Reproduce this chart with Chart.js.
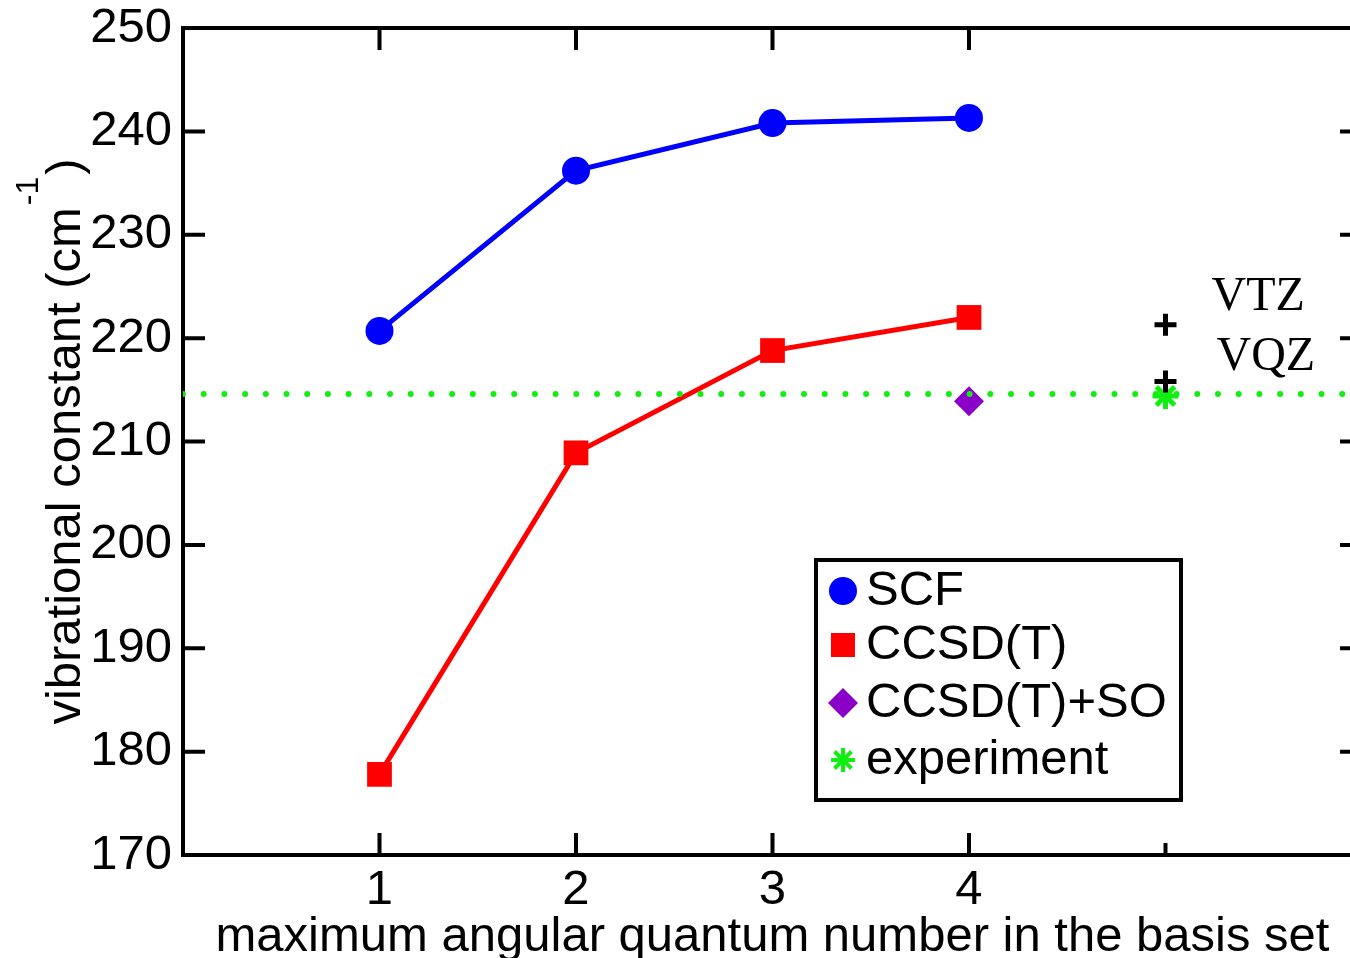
<!DOCTYPE html>
<html>
<head>
<meta charset="utf-8">
<script src="https://cdn.jsdelivr.net/npm/chart.js@4.4.1/dist/chart.umd.min.js"></script>
<style>
    html, body { margin: 0; padding: 0; background: #fff; overflow: hidden; }
    #wrap { width: 1380px; height: 958px; }
</style>
</head>
<body>
<div id="wrap"><canvas id="chart" width="1380" height="958"></canvas></div>
<script>
// basis-set cardinal number (l_max) on the x axis
const lMax = [1, 2, 3, 4];
const scfValues = [220.7, 236.2, 240.8, 241.3];
const ccsdtValues = [177.8, 208.9, 218.8, 222.0];
const ccsdtSoX = [4];
const ccsdtSoValues = [213.9];
const experimentValue = 214.6;
const experimentX = [5];
const refLabels = ["VTZ", "VQZ"];
const refValues = [221.3, 215.8];
const xTickLabels = ["1", "2", "3", "4"];
const yTicks = [170, 180, 190, 200, 210, 220, 230, 240, 250];

const SANS = "'Liberation Sans', Arial, Helvetica, sans-serif";
const SERIF = "'Liberation Serif', 'Times New Roman', serif";
const FS = 49;
const COLORS = {
    scf: "#0000ff",
    ccsdt: "#ff0000",
    so: "#8a00c8",
    exp: "#11ee11",
    ink: "#000000",
};

const pts = (xs, ys) => xs.map((x, i) => ({ x, y: ys[i] }));

function drawMarker(ctx, style, x, y, r, color) {
    ctx.save();
    ctx.fillStyle = color;
    ctx.strokeStyle = color;
    ctx.beginPath();
    if (style === "circle") {
        ctx.arc(x, y, r, 0, Math.PI * 2);
        ctx.fill();
    } else if (style === "rect") {
        ctx.fillRect(x - r, y - r, 2 * r, 2 * r);
    } else if (style === "rectRot") {
        ctx.moveTo(x - r, y);
        ctx.lineTo(x, y - r);
        ctx.lineTo(x + r, y);
        ctx.lineTo(x, y + r);
        ctx.closePath();
        ctx.fill();
    } else if (style === "star") {
        ctx.lineWidth = 4;
        for (let k = 0; k < 4; k++) {
            const a = k * Math.PI / 4;
            ctx.moveTo(x - Math.cos(a) * r, y - Math.sin(a) * r);
            ctx.lineTo(x + Math.cos(a) * r, y + Math.sin(a) * r);
        }
        ctx.stroke();
    }
    ctx.restore();
}

const framePlugin = {
    id: "frame",
    afterDraw(chart) {
        const { ctx, chartArea: a, scales: { x, y } } = chart;
        ctx.save();
        ctx.strokeStyle = COLORS.ink;
        ctx.lineWidth = 4;
        // top and right spines
        ctx.beginPath();
        ctx.moveTo(a.left, a.top);
        ctx.lineTo(a.right, a.top);
        ctx.lineTo(a.right, a.bottom);
        ctx.stroke();
        // inward ticks
        ctx.beginPath();
        yTicks.forEach((v) => {
            const py = y.getPixelForValue(v);
            ctx.moveTo(a.left, py);
            ctx.lineTo(a.left + 22, py);
            ctx.moveTo(a.right, py);
            ctx.lineTo(a.right - 22, py);
        });
        lMax.forEach((v) => {
            const px = x.getPixelForValue(v);
            ctx.moveTo(px, a.bottom);
            ctx.lineTo(px, a.bottom - 22);
            ctx.moveTo(px, a.top);
            ctx.lineTo(px, a.top + 22);
        });
        const px5 = x.getPixelForValue(experimentX[0]);
        ctx.moveTo(px5, a.bottom);
        ctx.lineTo(px5, a.bottom - 12);
        ctx.stroke();

        // VTZ / VQZ labels beside the crosses
        ctx.fillStyle = COLORS.ink;
        ctx.font = "48px " + SERIF;
        ctx.textBaseline = "middle";
        ctx.textAlign = "left";
        const offsets = [[46, -27], [51, -24]];
        refLabels.forEach((lab, i) => {
            const cx = x.getPixelForValue(experimentX[0]);
            const cy = y.getPixelForValue(refValues[i]);
            ctx.fillText(lab, cx + offsets[i][0], cy + offsets[i][1]);
        });

        // y axis title with superscript
        ctx.save();
        ctx.translate(80, (a.top + a.bottom) / 2);
        ctx.rotate(-Math.PI / 2);
        ctx.textBaseline = "alphabetic";
        const main = "vibrational constant (cm";
        const sup = "-1";
        const close = ")";
        ctx.font = FS + "px " + SANS;
        const wMain = ctx.measureText(main).width;
        const wClose = ctx.measureText(close).width;
        ctx.font = "32px " + SANS;
        const wSup = ctx.measureText(sup).width;
        let tx = -(wMain + wSup + wClose + 4) / 2;
        ctx.font = FS + "px " + SANS;
        ctx.fillText(main, tx, 0);
        tx += wMain + 2;
        ctx.font = "32px " + SANS;
        ctx.fillText(sup, tx, -42);
        tx += wSup + 2;
        ctx.font = FS + "px " + SANS;
        ctx.fillText(close, tx, 0);
        ctx.restore();

        // legend box
        const box = { l: 816, t: 560, r: 1181, b: 800 };
        ctx.lineWidth = 4;
        ctx.fillStyle = "#fff";
        ctx.fillRect(box.l, box.t, box.r - box.l, box.b - box.t);
        ctx.strokeRect(box.l, box.t, box.r - box.l, box.b - box.t);
        const entries = [
            ["SCF", "circle", 14, COLORS.scf],
            ["CCSD(T)", "rect", 12, COLORS.ccsdt],
            ["CCSD(T)+SO", "rectRot", 15, COLORS.so],
            ["experiment", "star", 12, COLORS.exp],
        ];
        const rows = [591, 645, 703, 760];
        ctx.font = FS + "px " + SANS;
        ctx.textBaseline = "middle";
        entries.forEach((e, i) => {
            drawMarker(ctx, e[1], 843, rows[i], e[2], e[3]);
            ctx.fillStyle = COLORS.ink;
            ctx.fillText(e[0], 866, rows[i]);
        });
        ctx.restore();
    },
};

new Chart(document.getElementById("chart"), {
    type: "scatter",
    data: {
        datasets: [
            {
                label: "refs",
                data: refValues.map((v) => ({ x: experimentX[0], y: v })),
                pointStyle: "cross",
                pointRadius: 11,
                borderColor: COLORS.ink,
                borderWidth: 5,
                showLine: false,
            },
            {
                label: "experiment line",
                data: [{ x: 0, y: experimentValue }, { x: 6, y: experimentValue }],
                showLine: true,
                pointRadius: 0,
                borderColor: COLORS.exp,
                borderWidth: 6,
                borderDash: [0, 20.7],
                borderCapStyle: "round",
            },
            {
                label: "experiment",
                data: pts(experimentX, [experimentValue - 0.2]),
                pointStyle: "star",
                pointRadius: 13,
                borderColor: COLORS.exp,
                backgroundColor: COLORS.exp,
                borderWidth: 5,
                showLine: false,
            },
            {
                label: "CCSD(T)+SO",
                data: pts(ccsdtSoX, ccsdtSoValues),
                pointStyle: "rectRot",
                pointRadius: 15,
                backgroundColor: COLORS.so,
                borderColor: COLORS.so,
                borderWidth: 0,
                showLine: false,
            },
            {
                label: "SCF",
                data: pts(lMax, scfValues),
                showLine: true,
                borderColor: COLORS.scf,
                backgroundColor: COLORS.scf,
                borderWidth: 5,
                pointStyle: "circle",
                pointRadius: 14,
                pointBorderWidth: 0,
            },
            {
                label: "CCSD(T)",
                data: pts(lMax, ccsdtValues),
                showLine: true,
                borderColor: COLORS.ccsdt,
                backgroundColor: COLORS.ccsdt,
                borderWidth: 5,
                pointStyle: "rect",
                pointRadius: 17.5,
                pointBorderWidth: 0,
            },
        ],
    },
    options: {
        responsive: false,
        animation: false,
        events: [],
        layout: { padding: { left: 0, top: 28, right: 17, bottom: 0 } },
        plugins: {
            legend: { display: false },
            tooltip: { enabled: false },
        },
        scales: {
            x: {
                type: "linear",
                min: 0,
                max: 6,
                afterFit: (s) => {
                    s.height = 103;
                    s.paddingLeft = 0;
                    s.paddingRight = 0;
                },
                afterBuildTicks: (s) => { s.ticks = lMax.map((v) => ({ value: v })); },
                grid: { display: false, drawTicks: false },
                border: { display: true, color: COLORS.ink, width: 4 },
                ticks: {
                    color: COLORS.ink,
                    font: { family: SANS, size: FS },
                    padding: 6,
                    callback: (v) => xTickLabels[lMax.indexOf(v)] || "",
                },
                title: {
                    display: true,
                    text: "maximum angular quantum number in the basis set",
                    color: COLORS.ink,
                    font: { family: SANS, size: FS, lineHeight: 1 },
                    padding: { top: 0, bottom: -4 },
                },
            },
            y: {
                type: "linear",
                min: 170,
                max: 250,
                afterFit: (s) => {
                    s.width = 183;
                    s.paddingTop = 0;
                    s.paddingBottom = 0;
                },
                afterBuildTicks: (s) => { s.ticks = yTicks.map((v) => ({ value: v })); },
                grid: { display: false, drawTicks: false },
                border: { display: true, color: COLORS.ink, width: 4 },
                ticks: {
                    color: COLORS.ink,
                    font: { family: SANS, size: FS },
                    padding: 11,
                },
            },
        },
    },
    plugins: [framePlugin],
});
</script>
</body>
</html>
